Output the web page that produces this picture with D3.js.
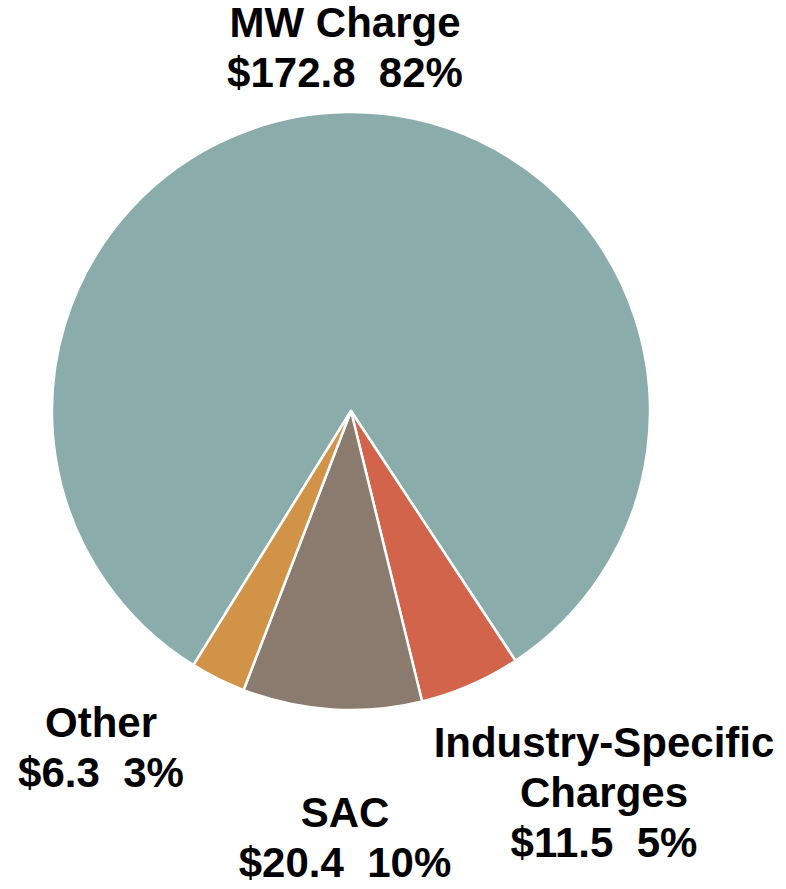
<!DOCTYPE html>
<html>
<head>
<meta charset="utf-8">
<script src="https://cdn.jsdelivr.net/npm/d3@7"></script>
<style>
  html, body { margin: 0; padding: 0; background: #fff; }
  svg { display: block; }
  text { font-family: "Liberation Sans", Arial, sans-serif; font-weight: bold; fill: #000; }
</style>
</head>
<body>
<svg id="chart" width="786" height="889"></svg>
<script>
// Data
const categories = ["MW Charge", "Industry-Specific Charges", "SAC", "Other"];
const values = [172.8, 11.5, 20.4, 6.3];
const colors = ["#8aacab", "#d1644a", "#8b7a6e", "#d19348"];
const labelLines = [["MW Charge"], ["Industry-Specific", "Charges"], ["SAC"], ["Other"]];

const svg = d3.select("#chart");
const cx = 351, cy = 411, r = 299;
const total = d3.sum(values);

const pie = d3.pie().sort(null).value(d => d)
  .startAngle(-148.2 * Math.PI / 180)
  .endAngle((360 - 148.2) * Math.PI / 180);
const arc = d3.arc().innerRadius(0).outerRadius(r);

const g = svg.append("g").attr("transform", `translate(${cx},${cy})`);
g.selectAll("path").data(pie(values)).join("path")
  .attr("d", arc)
  .attr("fill", (d, i) => colors[i])
  .attr("stroke", "#fff")
  .attr("stroke-width", 2.5)
  .attr("stroke-linejoin", "round");

// label layout: center x and first baseline y for each category
const labelPos = [
  { x: 345, y: 37 },
  { x: 604, y: 757 },
  { x: 345, y: 827 },
  { x: 101, y: 737 }
];
const lineH = 50;
const fmtVal = d3.format(".1f");

categories.forEach((c, i) => {
  const lines = labelLines[i].concat([`$${fmtVal(values[i])}\u00a0\u00a0${Math.round(values[i] / total * 100)}%`]);
  const t = svg.append("text")
    .attr("text-anchor", "middle")
    .attr("font-size", 42);
  lines.forEach((ln, j) => {
    t.append("tspan")
      .attr("x", labelPos[i].x)
      .attr("y", labelPos[i].y + j * lineH)
      .text(ln);
  });
});
</script>
</body>
</html>
